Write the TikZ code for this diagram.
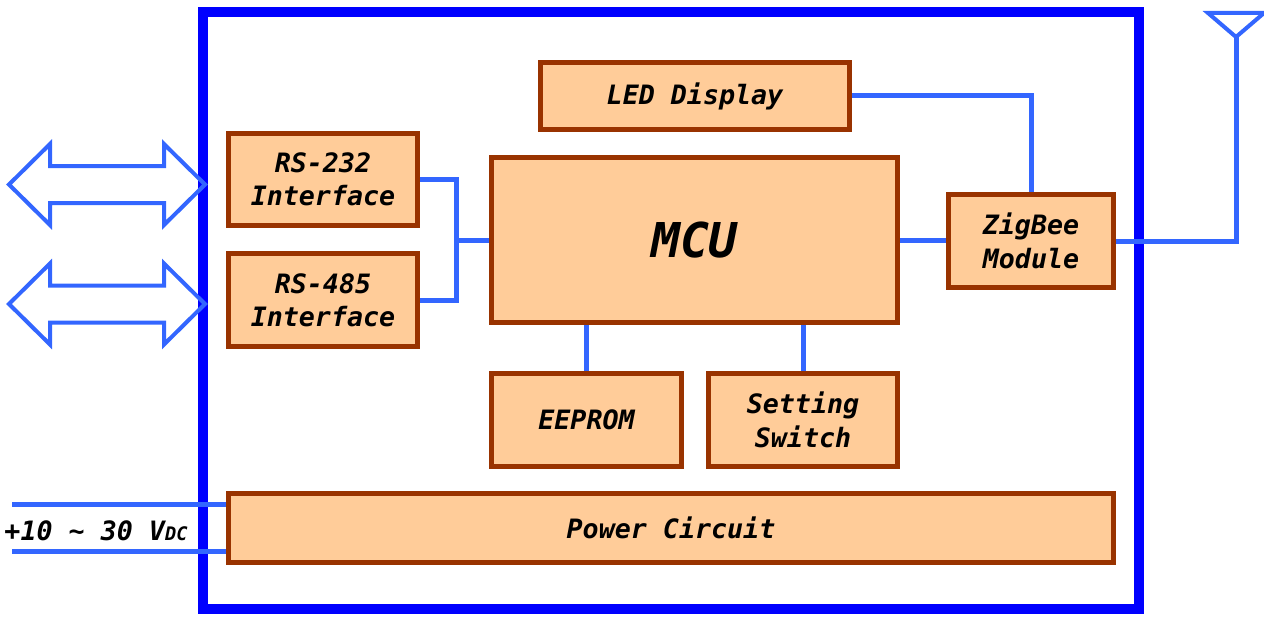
\documentclass[tikz,border=0pt]{standalone}
\usepackage{fontspec}
\newfontfamily\labelfont{DejaVu Sans Mono Bold Oblique}

\tikzset{every picture/.style={line width=0.75pt}}
\tikzset{
	block/.style={draw={rgb, 255:red, 153; green, 51; blue, 0}, line width=3.75pt, fill={rgb, 255:red, 255; green, 204; blue, 153}, inner sep=0pt, align=center, font=\labelfont\fontsize{20}{25}\selectfont},
	wire/.style={draw={rgb, 255:red, 51; green, 102; blue, 255}, line width=3.75pt},
	port/.style={draw={rgb, 255:red, 51; green, 102; blue, 255}, line width=3pt}
}

\begin{document}
\begin{tikzpicture}[x=0.75pt,y=0.75pt,yscale=-1,xscale=1]
	\useasboundingbox (0,0) rectangle (1264,617);

	%Shape: Rectangle [frame]
	\draw [draw={rgb, 255:red, 0; green, 0; blue, 255}, line width=7.5pt] (203,12) rectangle (1139,609);

	%Double Arrow [rs232 port]
	\draw [port] (9,184.5) -- (50,144) -- (50,166) -- (164,166) -- (164,144) -- (205,184.5) -- (164,225) -- (164,203) -- (50,203) -- (50,225) -- cycle ;
	%Double Arrow [rs485 port]
	\draw [port] (9,304) -- (50,263.5) -- (50,285.5) -- (164,285.5) -- (164,263.5) -- (205,304) -- (164,344.5) -- (164,322.5) -- (50,322.5) -- (50,344.5) -- cycle ;
	%Antenna
	\draw [port] (1208,13) -- (1264,13) -- (1236,37) -- cycle ;

	%Shape: Rectangle [blocks]
	\node [block, minimum width=231.75pt, minimum height=50.25pt] (led) at (695,96) {LED Display};
	\node [block, minimum width=141.75pt, minimum height=69pt] (rs232) at (323,179.5) {RS-232\\Interface};
	\node [block, minimum width=141.75pt, minimum height=69.5pt] (rs485) at (323,300) {RS-485\\Interface};
	\node [block, minimum width=304.5pt, minimum height=123.75pt, font=\labelfont\fontsize{36}{40}\selectfont] (mcu) at (694.5,240) {MCU};
	\node [block, minimum width=123.75pt, minimum height=69.75pt] (zig) at (1031,241) {ZigBee\\Module};
	\node [block, minimum width=142.5pt, minimum height=69.75pt] (eeprom) at (586.5,420) {EEPROM};
	\node [block, minimum width=141.75pt, minimum height=69.75pt] (sw) at (803,420) {Setting\\Switch};
	\node [block, minimum width=663.75pt, minimum height=51.75pt] (pwr) at (671,528) {Power Circuit};

	% Text Node
	\node [font=\labelfont\fontsize{20}{25}\selectfont] (vin) at (96,531) {+10 \textasciitilde{} 30 V{\fontsize{14}{14}\selectfont DC}};

	%Connectors
	\coordinate (bus) at (456,240);
	\coordinate (ant) at (1236,37);
	\coordinate (vinA) at (12,504);
	\coordinate (vinB) at (12,551);
	\draw [wire] (rs232.east) -| (bus) |- (rs485.east);
	\draw [wire] (bus) -- (mcu.west);
	\draw [wire] (mcu.east) -- (zig.west |- mcu.east);
	\draw [wire] (led.east) -| (zig.north);
	\draw [wire] (zig.east) -| (ant);
	\draw [wire] (mcu.south -| eeprom.north) -- (eeprom.north);
	\draw [wire] (mcu.south -| sw.north) -- (sw.north);
	\draw [wire] (vinA) -- (vinA -| pwr.west);
	\draw [wire] (vinB) -- (vinB -| pwr.west);

\end{tikzpicture}
\end{document}
